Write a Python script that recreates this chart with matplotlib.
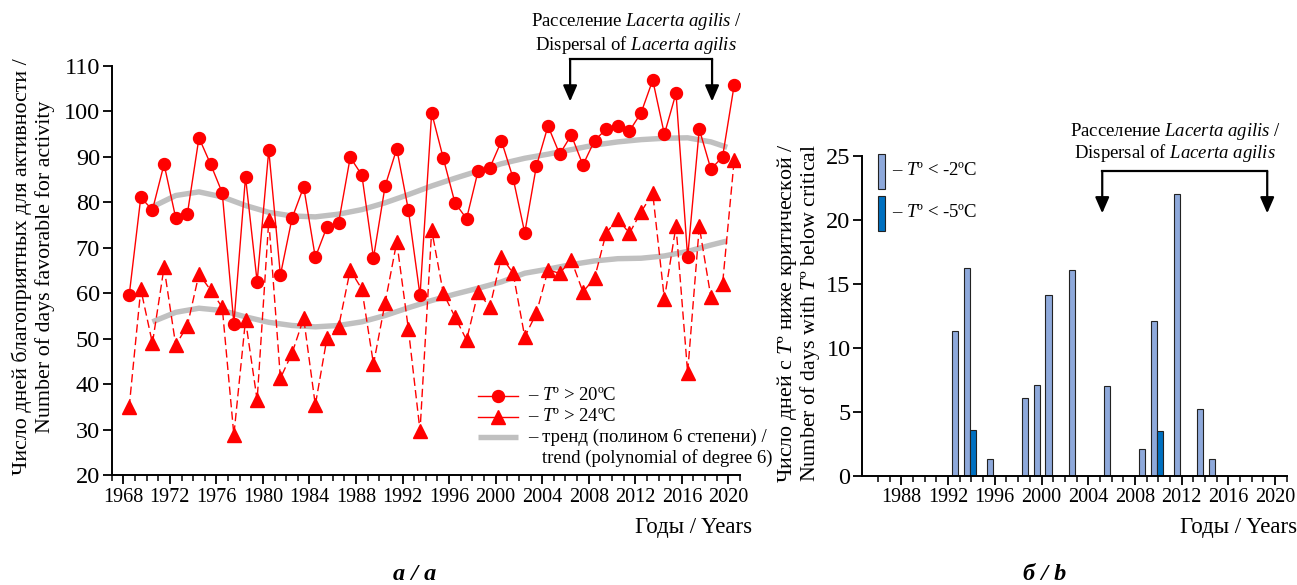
import matplotlib
matplotlib.use('Agg')
import matplotlib.pyplot as plt
from matplotlib.lines import Line2D
from matplotlib.patches import Rectangle
import numpy as np

plt.rcParams['font.family'] = ['Liberation Serif', 'DejaVu Serif']
plt.rcParams['mathtext.fontset'] = 'custom'
plt.rcParams['mathtext.rm'] = 'Liberation Serif'
plt.rcParams['mathtext.it'] = 'Liberation Serif:italic'
plt.rcParams['mathtext.bf'] = 'Liberation Serif:bold'

# ---------------- data ----------------
years = list(range(1968, 2021))
days_above20 = [59.5, 81.1, 78.3, 88.4, 76.6, 77.4, 94.2, 88.4, 82.1, 53.3,
                85.6, 62.5, 91.5, 64.0, 76.5, 83.4, 67.9, 74.6, 75.5, 89.9,
                86.0, 67.8, 83.6, 91.8, 78.3, 59.5, 99.7, 89.7, 79.9, 76.4,
                87.0, 87.6, 93.5, 85.3, 73.3, 88.0, 96.8, 90.6, 94.8, 88.2,
                93.6, 96.1, 96.8, 95.7, 99.7, 106.9, 95.0, 104.0, 67.9, 96.1,
                87.3, 90.0, 105.8]
days_above24 = [34.9, 60.9, 49.0, 65.7, 48.6, 52.8, 64.2, 60.7, 56.9, 28.8,
                54.1, 36.5, 76.1, 41.3, 46.8, 54.5, 35.4, 50.1, 52.6, 65.1,
                60.9, 44.4, 57.9, 71.3, 52.1, 29.7, 73.9, 60.0, 54.8, 49.7,
                60.3, 56.9, 68.0, 64.4, 50.4, 55.6, 65.1, 64.4, 67.3, 60.3,
                63.3, 73.3, 76.3, 73.2, 77.9, 82.0, 58.7, 74.8, 42.5, 74.7,
                59.1, 62.0, 89.3]
trend_years = [1970, 1972, 1974, 1976, 1978, 1980, 1982, 1984, 1986, 1988,
               1990, 1992, 1994, 1996, 1998, 2000, 2002, 2004, 2006, 2008,
               2010, 2012, 2014, 2016, 2018, 2019.4]
trend_above20 = [79.0, 81.5, 82.3, 81.2, 79.3, 77.8, 77.0, 76.8, 77.4, 78.4,
                 79.9, 81.7, 83.6, 85.3, 86.9, 88.5, 89.7, 90.6, 91.6, 92.6,
                 93.3, 93.8, 94.1, 94.2, 93.3, 92.1]
trend_above24 = [53.7, 55.8, 56.7, 56.2, 54.8, 53.6, 52.9, 52.6, 52.9, 53.7,
                 55.1, 56.8, 58.4, 59.8, 61.1, 62.5, 64.4, 65.3, 66.3, 67.1,
                 67.6, 67.7, 68.2, 69.2, 70.6, 71.5]
left_tick_labels = ['1968', '1972', '1976', '1980', '1984', '1988', '1992',
                    '1996', '2000', '2004', '2008', '2012', '2016', '2020']

cold_years = [1992, 1993, 1995, 1998, 1999, 2000, 2002, 2005, 2008, 2009,
              2011, 2013, 2014]
days_below_m2 = [11.3, 16.2, 1.3, 6.1, 7.1, 14.1, 16.1, 7.0, 2.1, 12.1,
                 22.0, 5.2, 1.3]
severe_years = [1993, 2009]
days_below_m5 = [3.6, 3.5]
right_tick_labels = ['1988', '1992', '1996', '2000', '2004', '2008', '2012',
                     '2016', '2020']

# ---------------- figure ----------------
W, H = 1297, 585
fig = plt.figure(figsize=(W / 100, H / 100), dpi=100)


def fx(px):
    return px / W


def fy(py):
    return 1 - py / H


FS = 13.5
XT = 14.5
YT = 17.5
TITLE = 16.5
RED = '#FF0000'
GRAY = '#C0C0C0'
LIGHT = '#8EA9DB'
DARK = '#0070C0'

ax1 = fig.add_axes([fx(111.7), fy(475), fx(740) - fx(111.7), fy(66) - fy(475)])
ax1.plot(trend_years, trend_above20, color=GRAY, lw=3.9, zorder=1,
         solid_capstyle='butt')
ax1.plot(trend_years, trend_above24, color=GRAY, lw=3.9, zorder=1,
         solid_capstyle='butt')
ax1.plot(years, days_above20, color=RED, lw=1.0, marker='o', ms=8.6, zorder=3)
ax1.plot(years, days_above24, color=RED, lw=1.0, ls=(0, (6, 3)), marker='^',
         ms=9.5, zorder=3)
ax1.set_xlim(1966.5, 2020.5)
ax1.set_ylim(20, 110)
ax1.set_yticks(np.arange(20, 111, 10))
ax1.set_xticks([int(s) - 0.5 for s in left_tick_labels])
ax1.set_xticklabels(left_tick_labels)
ax1.set_xticks(np.arange(1966.5, 2021, 1), minor=True)

ax2 = fig.add_axes([fx(862.3), fy(475.7), fx(1287.3) - fx(862.3),
                    fy(155.7) - fy(475.7)])
ax2.bar([y + 0.6 for y in cold_years], days_below_m2, width=0.52,
        color=LIGHT, edgecolor='#222222', linewidth=0.8, zorder=2)
ax2.bar([y + 1.14 for y in severe_years], days_below_m5, width=0.52,
        color=DARK, edgecolor='#222222', linewidth=0.8, zorder=2)
ax2.set_xlim(1984.65, 2021.05)
ax2.set_ylim(0, 25)
ax2.set_yticks(np.arange(0, 26, 5))
ax2.set_xticks([int(s) for s in right_tick_labels])
ax2.set_xticklabels(right_tick_labels)
ax2.set_xticks(np.arange(1986, 2022, 1), minor=True)

for ax in (ax1, ax2):
    for s in ('top', 'right'):
        ax.spines[s].set_visible(False)
    for s in ('left', 'bottom'):
        ax.spines[s].set_linewidth(1.4)
    ax.tick_params(axis='both', which='major', direction='out', length=6.5,
                   width=1.3, pad=2)
    ax.tick_params(axis='x', which='major', labelsize=XT, pad=2.5)
    ax.tick_params(axis='y', which='major', labelsize=YT, pad=2)
    ax.tick_params(axis='x', which='minor', direction='out', length=4.5,
                   width=1.1)

# axis titles
fig.text(fx(752), fy(528), 'Годы / Years', ha='right', va='center', fontsize=TITLE)
fig.text(fx(1297), fy(528), 'Годы / Years', ha='right', va='center', fontsize=TITLE)
fig.text(fx(22), fy(267), 'Число дней благоприятных для активности /',
         rotation=90, ha='center', va='center', fontsize=15.8)
fig.text(fx(45), fy(267), 'Number of days favorable for activity',
         rotation=90, ha='center', va='center', fontsize=15.8)
fig.text(fx(787), fy(313), 'Число дней с $\\mathit{T}$º ниже критической /',
         rotation=90, ha='center', va='center', fontsize=15.8)
fig.text(fx(810), fy(313), 'Number of days with $\\mathit{T}$º below critical',
         rotation=90, ha='center', va='center', fontsize=15.8)

# panel letters
fig.text(fx(415), fy(574), 'а / а', ha='center', va='center', fontsize=17.5,
         fontweight='bold', fontstyle='italic')
fig.text(fx(1045), fy(574), 'б / b', ha='center', va='center', fontsize=17.5,
         fontweight='bold', fontstyle='italic')

# left legend (manual)
lx0, lx1 = fx(478), fx(518)
fig.add_artist(Line2D([lx0, (lx0 + lx1) / 2, lx1], [fy(395.7)] * 3, color=RED,
                      lw=1.0, marker='o', ms=8.6, markevery=[1]))
fig.add_artist(Line2D([lx0, (lx0 + lx1) / 2, lx1], [fy(416.7)] * 3, color=RED,
                      lw=1.0, marker='^', ms=9.5, markevery=[1]))
fig.add_artist(Line2D([lx0, lx1], [fy(437.3)] * 2, color=GRAY, lw=3.9,
                      solid_capstyle='butt'))
fig.text(fx(528), fy(395.7), '– $\\mathit{T}$º > 20ºC', va='center', fontsize=FS)
fig.text(fx(528), fy(416.7), '– $\\mathit{T}$º > 24ºC', va='center', fontsize=FS)
fig.text(fx(528), fy(437.3), '– тренд (полином 6 степени) /', va='center', fontsize=FS)
fig.text(fx(541.7), fy(458.3), 'trend (polynomial of degree 6)', va='center', fontsize=FS)

# right legend (manual)
fig.add_artist(Rectangle((fx(878.3), fy(189.3)), fx(885) - fx(878.3),
                         fy(154) - fy(189.3), facecolor=LIGHT,
                         edgecolor='#222222', lw=0.8))
fig.add_artist(Rectangle((fx(878.3), fy(230.7)), fx(885) - fx(878.3),
                         fy(196) - fy(230.7), facecolor=DARK,
                         edgecolor='#222222', lw=0.8))
fig.text(fx(891.7), fy(170.7), '– $\\mathit{T}$º < -2ºC', va='center', fontsize=FS)
fig.text(fx(891.7), fy(212.3), '– $\\mathit{T}$º < -5ºC', va='center', fontsize=FS)


# dispersal brackets
def bracket(ax, x0, x1, ytop, ytip):
    ax.plot([x0, x1], [ytop, ytop], color='black', lw=1.6, clip_on=False,
            solid_capstyle='projecting')
    for x in (x0, x1):
        ax.annotate('', xy=(x, ytip), xytext=(x, ytop),
                    arrowprops=dict(arrowstyle='-|>,head_length=0.8,head_width=0.35',
                                    color='black', lw=1.6, mutation_scale=12,
                                    shrinkA=0, shrinkB=0),
                    annotation_clip=False)


bracket(ax1, 2005.9, 2018.1, 111.5, 102.2)
bracket(ax2, 2005.2, 2019.33, 23.8, 20.5)

fig.text(fx(636), fy(22), 'Расселение $\\mathit{Lacerta\\ agilis}$ /', ha='center',
         va='center', fontsize=FS)
fig.text(fx(636), fy(45), 'Dispersal of $\\mathit{Lacerta\\ agilis}$', ha='center',
         va='center', fontsize=FS)
fig.text(fx(1175), fy(131), 'Расселение $\\mathit{Lacerta\\ agilis}$ /', ha='center',
         va='center', fontsize=FS)
fig.text(fx(1175), fy(153), 'Dispersal of $\\mathit{Lacerta\\ agilis}$', ha='center',
         va='center', fontsize=FS)

fig.savefig('out.png', dpi=100)
